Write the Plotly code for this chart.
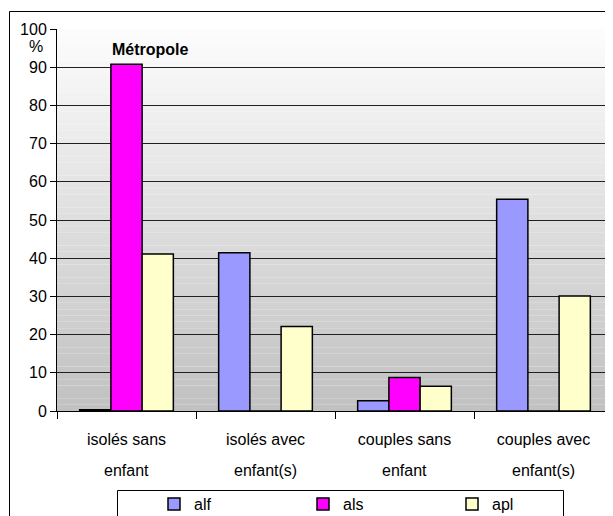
import plotly.graph_objects as go

categories = ["isolés sans enfant", "isolés avec enfant(s)", "couples sans enfant", "couples avec enfant(s)"]
label_line1 = ["isolés sans", "isolés avec", "couples sans", "couples avec"]
label_line2 = ["enfant", "enfant(s)", "enfant", "enfant(s)"]
series_names = ["alf", "als", "apl"]
alf = [0.3, 41.4, 2.7, 55.4]
als = [90.8, 0, 8.8, 0]
apl = [41.1, 22.1, 6.5, 30.1]
colors = ["#9999FF", "#FF00FF", "#FFFFCC"]
y_ticks = list(range(0, 101, 10))

# page body has an 8px margin: work in reference pixels, shift by OFF
OFF = 8
W, H = 613, 516
FW, FH = W - OFF, H - OFF
L, T = 57 - OFF, 29 - OFF
B = FH - (411 - OFF)
R = 0
pw, ph = FW - L - R, FH - T - B

def px_x(p):
    return (p - OFF - L) / pw

def px_y(p):
    return ((411 - OFF) - (p - OFF)) / ph

FONT = "Liberation Sans, Arial, sans-serif"

fig = go.Figure()
for name, vals, col in zip(series_names, [alf, als, apl], colors):
    fig.add_trace(go.Bar(
        x=categories, y=vals, name=name,
        marker=dict(color=col, line=dict(color="black", width=1.5)),
    ))

shapes = []
n = 60
for i in range(n):
    t = (i + 0.5) / n
    c = int(round(253 - (253 - 192) * (1 - t)))
    shapes.append(dict(type="rect", xref="paper", yref="paper", x0=0, x1=1,
                       y0=i / n, y1=(i + 1) / n, layer="below",
                       fillcolor=f"rgb({c},{c},{c})", line=dict(width=0)))
shapes.append(dict(type="rect", xref="paper", yref="paper",
                   x0=px_x(9.5), x1=px_x(W + 10), y0=px_y(H + 10), y1=px_y(11.5),
                   line=dict(color="black", width=1), fillcolor="rgba(0,0,0,0)", layer="above"))
shapes.append(dict(type="rect", xref="paper", yref="paper",
                   x0=px_x(117.5), x1=px_x(563.5), y0=px_y(H + 5), y1=px_y(490.5),
                   line=dict(color="black", width=1), fillcolor="white", layer="above"))

annotations = [
    dict(text="<b>Métropole</b>", xref="paper", yref="paper", x=px_x(150), y=px_y(49),
         xanchor="center", yanchor="middle", showarrow=False,
         font=dict(family=FONT, size=16, color="black")),
    dict(text="%", xref="paper", yref="paper", x=px_x(36), y=px_y(46),
         xanchor="center", yanchor="middle", showarrow=False,
         font=dict(family=FONT, size=16, color="black")),
]
for cat, l2 in zip(categories, label_line2):
    annotations.append(dict(text=l2, xref="x", yref="paper", x=cat, y=px_y(470),
                            showarrow=False, yanchor="middle", xanchor="center",
                            font=dict(family=FONT, size=16, color="black")))

fig.update_layout(
    width=FW, height=FH,
    margin=dict(l=L, r=R, t=T, b=B, pad=0),
    paper_bgcolor="white",
    plot_bgcolor="rgba(0,0,0,0)",
    barmode="group", bargap=0.326, bargroupgap=0,
    font=dict(family=FONT, size=16, color="black"),
    shapes=shapes,
    annotations=annotations,
    showlegend=True,
    legend=dict(orientation="h", xref="container", yref="container",
                x=(154 - OFF) / FW, y=1 - (487 - OFF) / FH, xanchor="left", yanchor="top",
                entrywidth=104, entrywidthmode="pixels",
                bgcolor="rgba(0,0,0,0)", borderwidth=0,
                font=dict(family=FONT, size=16, color="black"),
                itemclick=False),
    xaxis=dict(tickmode="array", tickvals=categories, ticktext=label_line1,
               tickson="boundaries", ticks="outside", ticklen=7, tickcolor="black",
               ticklabelstandoff=14,
               showline=True, linecolor="black", linewidth=1,
               showgrid=False, range=[-0.5, 3.5],
               tickfont=dict(family=FONT, size=16, color="black")),
    yaxis=dict(range=[0, 100], tickvals=y_ticks, ticks="outside", ticklen=6,
               tickcolor="black", showline=True, linecolor="black", linewidth=1,
               showgrid=True, gridcolor="#202020", gridwidth=1, zeroline=False,
               tickfont=dict(family=FONT, size=16, color="black")),
)

fig.write_html("out.html")
